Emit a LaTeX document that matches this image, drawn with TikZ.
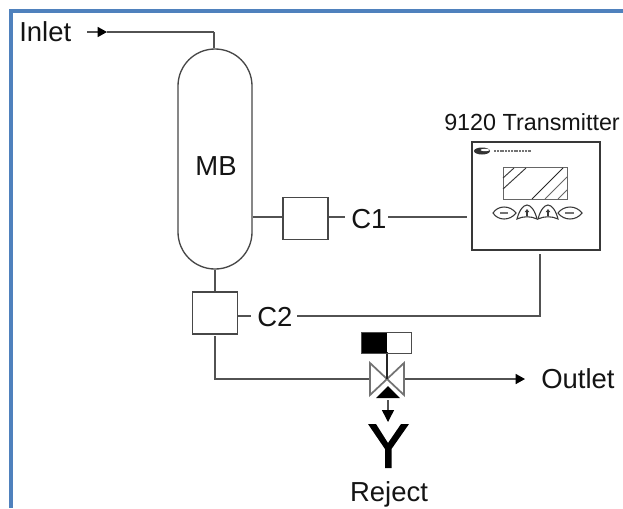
\documentclass[tikz,border=0pt]{standalone}
\usepackage{fontspec}
\setmainfont{Liberation Sans}
\usetikzlibrary{arrows.meta}
\tikzset{
  x=0.75pt,y=-0.75pt,
  pipe/.style={draw=black!68,line width=1.1pt},
  label/.style={font=\fontsize{20.6}{24}\selectfont,text=black!92,inner sep=0pt},
  sensor/.style={draw=black!72,line width=0.9pt,fill=white,minimum width=33.75pt,minimum height=31.5pt,inner sep=0pt},
  vessel/.style={draw=black!72,line width=1pt,fill=white,rounded corners=27.7pt,minimum width=55.5pt,minimum height=165pt,inner sep=0pt},
  panel/.style={draw=black!78,line width=0.85pt,fill=white,minimum width=96pt,minimum height=81pt,inner sep=0pt},
  arrowed/.style={-{Triangle[length=7pt,width=7.5pt,color=black]}},
  keyline/.style={draw=black!78,line width=0.8pt},
}
\begin{document}
\begin{tikzpicture}
\useasboundingbox (0,0) rectangle (623,508);
% frame
\fill[white] (0,0) rectangle (623,508);
\fill[color={rgb,255:red,79;green,129;blue,189}] (9,9) rectangle (623,13.3);
\fill[color={rgb,255:red,79;green,129;blue,189}] (9,9) rectangle (13.3,508);
% nodes
\node[vessel] (mb) at (215,159) {};
\node[label] (mbt) at (216,166) {MB};
\node[sensor] (s1) at (305.5,218.5) {};
\node[sensor] (s2) at (215,313) {};
\node[panel] (tx) at (536,196) {};
\node[label,anchor=west] (inlet) at (19,32) {Inlet};
\node[font=\fontsize{17.5}{21}\selectfont,text=black!92,inner sep=0pt] (txt) at (532,122) {9120 Transmitter};
\node[label,anchor=west] (c1) at (351,219) {C1};
\node[label,anchor=west] (c2) at (257,317) {C2};
\node[label,anchor=west] (outlet) at (541,379) {Outlet};
\node[label] (reject) at (389,494) {Reject};
% free ends
\coordinate (in0) at (87,32);
\coordinate (in1) at (107,32);
\coordinate (inc) at (214,32);
\coordinate (c1a) at (345,217);
\coordinate (c1b) at (388,217);
\coordinate (c1c) at (467,217);
\coordinate (c2a) at (251,316);
\coordinate (c2b) at (297,316);
\coordinate (c2c) at (540,316);
\coordinate (txb) at (540,254);
\coordinate (valve) at (387,379);
\coordinate (vl) at (370,379);
\coordinate (vr) at (404,379);
\coordinate (s2b) at (215,336);
\coordinate (corner) at (215,379);
\coordinate (outa) at (525,379);
% connectors
\draw[pipe] (inc) -- (mb.north -| inc);
\draw[pipe] (in1) -- (inc);
\draw[pipe,arrowed] (in0) -- (in1);
\draw[pipe] (mb.east |- c1a) -- (s1.west |- c1a);
\draw[pipe] (s1.east |- c1a) -- (c1a);
\draw[pipe] (c1b) -- (c1c);
\draw[pipe] (mb.south) -- (s2.north);
\draw[pipe] (s2.east |- c2a) -- (c2a);
\draw[pipe] (c2b) -- (c2c) -- (txb);
\draw[pipe] (s2b) -- (corner) -- (vl);
\draw[pipe,arrowed] (vr) -- (outa);
% valve
\draw[draw=black!55,line width=1.3pt,fill=white] (370,363) -- (404,395) -- (404,363) -- (370,395) -- cycle;
\coordinate (act) at (387,352);
\draw[draw=black!85,line width=0.9pt] (act) -- (valve);
\fill[black] (361,332) rectangle (387,353);
\draw[draw=black!70,line width=0.7pt] (361,332) rectangle (411,353);
\fill[black] (388,386) -- (400,398) -- (376,398) -- cycle;
\coordinate (rj0) at (388,400);
\coordinate (rj1) at (388,422);
\draw[pipe,-{Triangle[length=9pt,width=9pt,color=black]}] (rj0) -- (rj1);
% reject funnel
\fill[black] (368,424) -- (376,424) -- (388,443) -- (401,424) -- (409,424) -- (391.5,449) -- (391.5,468) -- (385,468) -- (385,449) -- cycle;
% transmitter face
\fill[black!80] (482,151) ellipse (8 and 3.5);
\fill[white] (485,150) ellipse (4.5 and 1.2);
\draw[black!55,line width=1.3pt,dash pattern=on 1.5pt off 0.6pt] (494,151) -- (531,151);
\draw[draw=black!60,line width=0.7pt] (503,167) rectangle (567,199);
\begin{scope}[line width=0.7pt]
\draw[black!78] (503,178) -- (514,168);
\draw[black!78] (503,189) -- (526,168);
\draw[black!85] (532,199) -- (563,168);
\draw[black!60] (545,199) -- (567,177);
\draw[black!60] (558,199) -- (567,190);
\end{scope}
% keys
\draw[keyline] (493,213) .. controls (498,205) and (510,205) .. (516,213) .. controls (510,221) and (498,221) .. (493,213) -- cycle;
\draw[keyline] (558,213) .. controls (564,205) and (576,205) .. (582,213) .. controls (576,221) and (564,221) .. (558,213) -- cycle;
\draw[keyline] (517,219) .. controls (519,211) and (523,205) .. (527,205) .. controls (531,205) and (535,211) .. (537,219) .. controls (531,216) and (523,216) .. (517,219) -- cycle;
\draw[keyline] (538,219) .. controls (540,211) and (544,205) .. (548,205) .. controls (552,205) and (556,211) .. (558,219) .. controls (552,216) and (544,216) .. (538,219) -- cycle;
\draw[keyline,-{Triangle[length=2.4pt,width=3.4pt]}] (527,216) -- (527,209);
\draw[keyline,-{Triangle[length=2.4pt,width=3.4pt]}] (548,216) -- (548,209);
\fill[black!55] (500,212) rectangle (508,213.5);
\fill[black!55] (565,212) rectangle (574,213.5);
\end{tikzpicture}
\end{document}
